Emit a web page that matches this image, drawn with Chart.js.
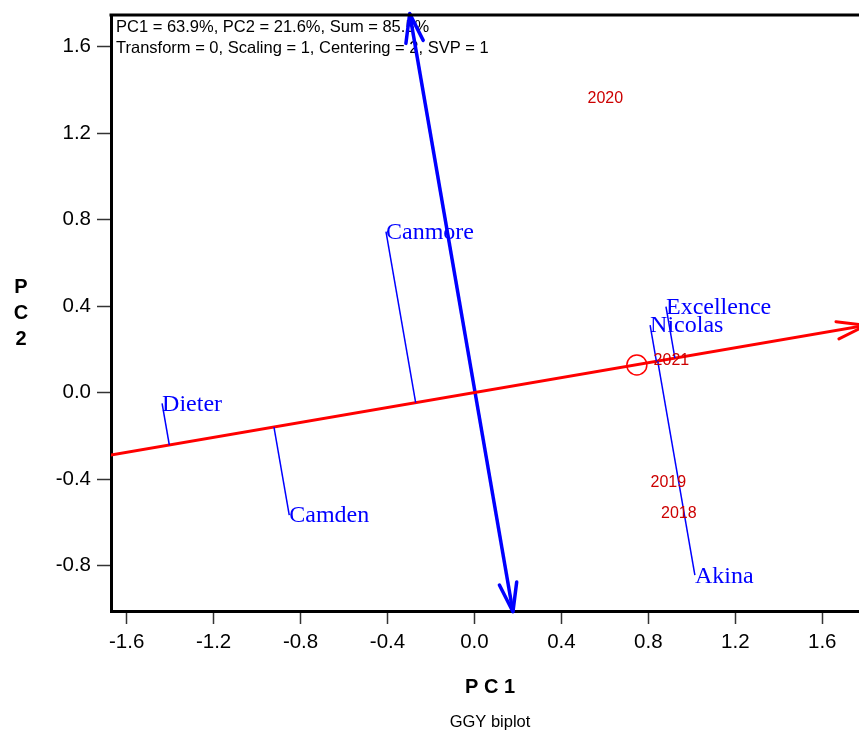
<!DOCTYPE html>
<html>
<head>
<meta charset="utf-8">
<title>GGY biplot</title>
<script src="https://cdn.jsdelivr.net/npm/chart.js@4.4.1/dist/chart.umd.min.js"></script>
<style>
  html, body { margin: 0; padding: 0; background: #fff; overflow: hidden; }
  #biplot { display: block; }
</style>
</head>
<body>
<canvas id="biplot" width="859" height="730"></canvas>
<script>
// ============================================================
// DATA
// ============================================================
const xTicks = [-1.6, -1.2, -0.8, -0.4, 0.0, 0.4, 0.8, 1.2, 1.6];
const yTicks = [-0.8, -0.4, 0.0, 0.4, 0.8, 1.2, 1.6];

const genotypes = ['Dieter', 'Camden', 'Canmore', 'Excellence', 'Nicolas', 'Akina'];
const genoPC1 = [-1.437, -0.852, -0.407, 0.881, 0.808, 1.014];
const genoPC2 = [-0.049, -0.566, 0.745, 0.398, 0.313, -0.844];

const environments = ['2020', '2021', '2019', '2018'];
const envPC1 = [0.602, 0.906, 0.892, 0.940];
const envPC2 = [1.358, 0.147, -0.416, -0.558];

// average environment (circle)
const avgEnvPC1 = [0.747];
const avgEnvPC2 = [0.128];

// average environment axis (red, abscissa) and its ordinate (blue)
const aecAbscissaX = [-1.70, 1.80];
const aecAbscissaY = [-0.293, 0.311];
const aecOrdinateX = [-0.298, 0.177];
const aecOrdinateY = [1.753, -1.013];

const annotationLines = [
  'PC1 = 63.9%, PC2 = 21.6%, Sum = 85.5%',
  'Transform = 0, Scaling = 1, Centering = 2, SVP = 1'
];

const COLORS = {
  blue: '#0000ff',
  red: '#ff0000',
  envRed: '#cc0000',
  black: '#000000'
};

const SANS = 'Arial, "Liberation Sans", sans-serif';
const SERIF = '"Times New Roman", "Liberation Serif", serif';

// ============================================================
// HELPERS
// ============================================================
// foot of the perpendicular from (px, py) onto the red axis
function projectOnAbscissa(px, py) {
  const x0 = aecAbscissaX[0], y0 = aecAbscissaY[0];
  const dx = aecAbscissaX[1] - x0, dy = aecAbscissaY[1] - y0;
  const t = ((px - x0) * dx + (py - y0) * dy) / (dx * dx + dy * dy);
  return { x: x0 + t * dx, y: y0 + t * dy };
}

function lineDataset(points, color, width, clip) {
  return {
    type: 'scatter',
    data: points,
    showLine: true,
    borderColor: color,
    borderWidth: width,
    pointRadius: 0,
    fill: false,
    clip: clip
  };
}

function drawArrowHead(ctx, tipX, tipY, fromX, fromY, color, width) {
  const ang = Math.atan2(tipY - fromY, tipX - fromX);
  const len = 30, spread = 17 * Math.PI / 180;
  ctx.save();
  ctx.strokeStyle = color;
  ctx.lineWidth = width;
  ctx.lineCap = 'round';
  ctx.lineJoin = 'round';
  ctx.beginPath();
  ctx.moveTo(tipX - len * Math.cos(ang - spread), tipY - len * Math.sin(ang - spread));
  ctx.lineTo(tipX, tipY);
  ctx.lineTo(tipX - len * Math.cos(ang + spread), tipY - len * Math.sin(ang + spread));
  ctx.stroke();
  ctx.restore();
}

// ============================================================
// DATASETS
// ============================================================
const projectionSets = genotypes.map((g, i) => {
  const foot = projectOnAbscissa(genoPC1[i], genoPC2[i]);
  return lineDataset([{ x: genoPC1[i], y: genoPC2[i] }, foot], COLORS.blue, 1.5, true);
});

const abscissaSet = lineDataset(
  aecAbscissaX.map((x, i) => ({ x, y: aecAbscissaY[i] })), COLORS.red, 3, true);
const ordinateSet = lineDataset(
  aecOrdinateX.map((x, i) => ({ x, y: aecOrdinateY[i] })), COLORS.blue, 3.5, false);

const avgEnvSet = {
  type: 'scatter',
  data: avgEnvPC1.map((x, i) => ({ x, y: avgEnvPC2[i] })),
  pointRadius: 10,
  pointBorderColor: COLORS.red,
  pointBackgroundColor: 'rgba(0,0,0,0)',
  pointBorderWidth: 1.5
};

// ============================================================
// TEXT + ARROWS PLUGIN
// ============================================================
const biplotDecor = {
  id: 'biplotDecor',
  beforeDatasetsDraw(chart) {
    const { ctx, chartArea } = chart;
    ctx.save();
    ctx.fillStyle = COLORS.black;
    ctx.font = '16.5px ' + SANS;
    ctx.textAlign = 'left';
    ctx.textBaseline = 'middle';
    annotationLines.forEach((t, i) => ctx.fillText(t, chartArea.left + 5, 27 + i * 21));
    ctx.restore();
  },
  afterDatasetsDraw(chart) {
    const { ctx, scales } = chart;
    const xs = scales.x, ys = scales.y;

    // arrow heads
    const px = v => xs.getPixelForValue(v);
    const py = v => ys.getPixelForValue(v);
    drawArrowHead(ctx, px(aecAbscissaX[1]), py(aecAbscissaY[1]),
      px(aecAbscissaX[0]), py(aecAbscissaY[0]), COLORS.red, 3);
    drawArrowHead(ctx, px(aecOrdinateX[0]), py(aecOrdinateY[0]),
      px(aecOrdinateX[1]), py(aecOrdinateY[1]), COLORS.blue, 3.5);
    drawArrowHead(ctx, px(aecOrdinateX[1]), py(aecOrdinateY[1]),
      px(aecOrdinateX[0]), py(aecOrdinateY[0]), COLORS.blue, 3.5);

    ctx.save();
    // genotype labels
    ctx.fillStyle = COLORS.blue;
    ctx.font = '24px ' + SERIF;
    ctx.textAlign = 'left';
    ctx.textBaseline = 'middle';
    genotypes.forEach((g, i) => ctx.fillText(g, px(genoPC1[i]), py(genoPC2[i]) + 1));

    // environment labels
    ctx.fillStyle = COLORS.envRed;
    ctx.font = '16px ' + SANS;
    ctx.textAlign = 'center';
    environments.forEach((e, i) => ctx.fillText(e, px(envPC1[i]), py(envPC2[i])));
    ctx.restore();
  },
  afterDraw(chart) {
    const { ctx, chartArea } = chart;
    ctx.save();
    // top frame line
    ctx.strokeStyle = COLORS.black;
    ctx.lineWidth = 3;
    ctx.beginPath();
    ctx.moveTo(chartArea.left - 1.5, chartArea.top);
    ctx.lineTo(chartArea.right, chartArea.top);
    ctx.stroke();

    // axis titles
    ctx.fillStyle = COLORS.black;
    ctx.textAlign = 'center';
    ctx.textBaseline = 'middle';
    ctx.font = 'bold 20px ' + SANS;
    ['P', 'C', '2'].forEach((ch, i) => ctx.fillText(ch, 21, 287 + i * 26));
    ctx.fillText('P C 1', 490, 687);
    ctx.font = '16.5px ' + SANS;
    ctx.fillText('GGY biplot', 490, 722);
    ctx.restore();
  }
};

// ============================================================
// CHART
// ============================================================
new Chart(document.getElementById('biplot'), {
  type: 'scatter',
  data: {
    datasets: [...projectionSets, abscissaSet, ordinateSet, avgEnvSet]
  },
  options: {
    responsive: false,
    animation: false,
    layout: { autoPadding: false, padding: { top: 15, right: 0, bottom: 0, left: 0 } },
    plugins: { legend: { display: false }, tooltip: { enabled: false } },
    scales: {
      x: {
        type: 'linear',
        min: -1.672,
        max: 1.769,
        afterBuildTicks: axis => { axis.ticks = xTicks.map(v => ({ value: v })); },
        afterFit: axis => {
          axis.height = 119;
          axis.paddingLeft = 0;
          axis.paddingRight = 0;
        },
        ticks: {
          color: COLORS.black,
          font: { family: SANS, size: 20.5 },
          padding: 6,
          maxRotation: 0,
          autoSkip: false,
          callback: v => v.toFixed(1)
        },
        grid: { drawOnChartArea: false, tickLength: 13, tickColor: '#333', tickWidth: 1.5 },
        border: { display: true, width: 3, color: COLORS.black }
      },
      y: {
        type: 'linear',
        min: -1.0095,
        max: 1.7466,
        afterBuildTicks: axis => { axis.ticks = yTicks.map(v => ({ value: v })); },
        afterFit: axis => {
          axis.width = 111;
          axis.paddingTop = 0;
          axis.paddingBottom = 0;
        },
        ticks: {
          color: COLORS.black,
          font: { family: SANS, size: 20.5 },
          padding: 6,
          autoSkip: false,
          callback: v => v.toFixed(1)
        },
        grid: { drawOnChartArea: false, tickLength: 14, tickColor: '#333', tickWidth: 1.5 },
        border: { display: true, width: 3, color: COLORS.black }
      }
    }
  },
  plugins: [biplotDecor]
});
</script>
</body>
</html>
